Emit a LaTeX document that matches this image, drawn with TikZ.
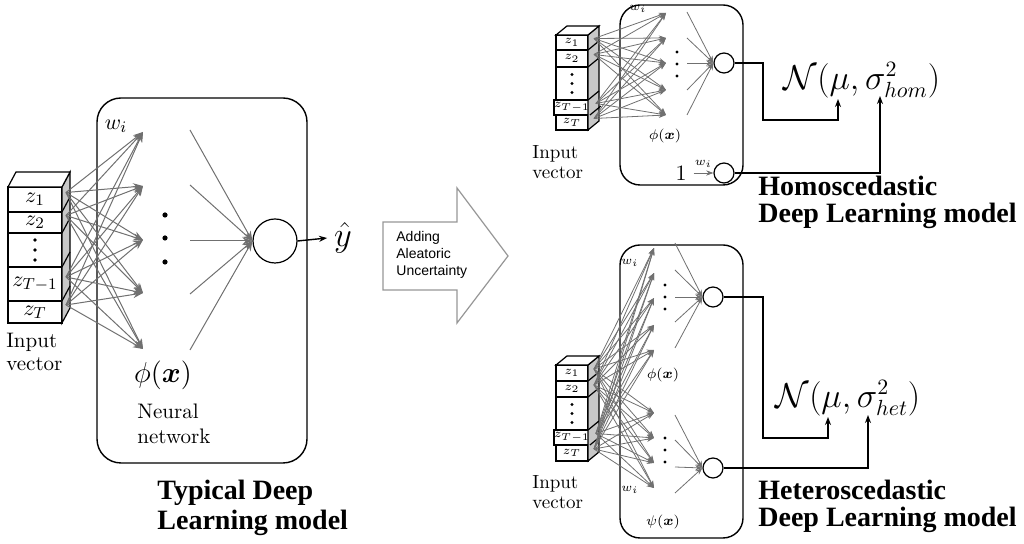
\documentclass[tikz,border=0pt]{standalone}
\usepackage{amsmath,amssymb}
\usepackage{fontspec}
\newfontfamily\titlefont{Liberation Serif}
\newfontfamily\notefont{Liberation Sans}
\usepackage{tikz}
\usetikzlibrary{positioning,arrows.meta,calc}
\definecolor{conexion}{RGB}{112,112,112}
\definecolor{lateral}{RGB}{200,200,200}
\definecolor{flecha}{RGB}{150,150,150}
\newcommand{\fsz}[1]{\fontsize{#1}{#1}\selectfont}

\begin{document}
\begin{tikzpicture}[x=0.5pt,y=-0.5pt,
    celda/.style={draw, fill=white, line width=0.6pt, inner sep=0pt, outer sep=0pt, anchor=north},
    celdaL/.style={celda, minimum width=27pt, font=\fsz{11}},
    celdaS/.style={celda, minimum width=16pt, font=\fsz{5.8}},
    cara/.style={draw, line width=0.6pt},
    sinapsis/.style={draw=conexion, line width=0.5pt, -{Stealth[length=5pt,width=3.6pt]}},
    sinapsisS/.style={draw=conexion, line width=0.4pt, -{Stealth[length=3.6pt,width=2.6pt]}},
    neurona/.style={draw, circle, line width=0.6pt, inner sep=0pt, fill=white},
    salida/.style={draw, line width=0.7pt, -{Stealth[length=4pt,width=3pt]}},
    caja/.style={draw, line width=0.7pt},
    etiqueta/.style={inner sep=0pt, align=left},
    titulo/.style={etiqueta, anchor=west, font=\titlefont\bfseries\fontsize{14}{13.5}\selectfont, align=left},
    nota/.style={etiqueta, anchor=west, font=\notefont\fontsize{7}{8.6}\selectfont}]
  \useasboundingbox (0,0) rectangle (1024,544);

  % red tipica
  \draw[caja, rounded corners=12pt] (97,98) rectangle (307,463);
  \node[celdaL, minimum height=12.5pt] (inL1) at (35,187) {$z_1$};
  \node[celdaL, minimum height=10.5pt, below=0pt of inL1] (inL2) {$z_2$};
  \node[celdaL, minimum height=17pt, below=0pt of inL2] (inL3) {};
  \node[celdaL, minimum height=17pt, below=0pt of inL3] (inL4) {$z_{T-1}$};
  \node[celdaL, minimum height=11pt, below=0pt of inL4] (inL5) {$z_T$};
  \foreach \d in {-10,0,10} \fill ($(inL3.center)+(0,\d)$) circle (0.9pt);
  \draw[cara, fill=lateral] (inL1.north east) -- ++(8,-15) -- ($(inL5.south east)+(8,-15)$) -- (inL5.south east) -- cycle;
  \draw[cara, fill=white] (inL1.north west) -- ++(8,-15) -- ($(inL1.north east)+(8,-15)$) -- (inL1.north east) -- cycle;
  \foreach \i in {1,...,4} \draw[cara] (inL\i.south east) -- ++(8,-15);
  \foreach \y [count=\i] in {132,186,240,293,349} \coordinate (hidL\i) at (143,\y);
  \foreach \s in {1,2,4,5} {
    \foreach \t in {1,...,5} \draw[sinapsis] ($(inL\s.east)+(4,-7)$) -- (hidL\t);
  }
  \node[neurona, minimum size=22pt] (outL) at (275,241) {};
  \foreach \y [count=\i] in {130,185,241,294,350} {
    \coordinate (srcL\i) at (190,\y);
    \draw[sinapsis] (srcL\i) -- (outL.west);
  }
  \foreach \y in {215,238,262} \fill (165,\y) circle (1.3pt);
  \node[font=\fsz{19}] (yhat) at (343,238) {$\hat{y}$};
  \draw[salida] (outL.east) -- (yhat.west);
  \node[font=\fsz{11}] (wL) at (116,126) {$w_i$};
  \node[font=\fsz{15}] (phiL) at (163,375) {$\phi(\boldsymbol{x})$};
  \node[etiqueta, anchor=west, font=\fontsize{10.5}{12.5}\selectfont] (nnL) at (137,424) {Neural\\network};
  \node[etiqueta, anchor=west, font=\fontsize{10.5}{11.5}\selectfont] (ivL) at (6,352) {Input\\vector};
  \node[titulo, font=\titlefont\bfseries\fontsize{14}{15}\selectfont] (tL) at (157,508) {Typical Deep\\Learning model};

  % flecha central
  \draw[draw=flecha, line width=0.6pt] (383,222) -- (457,222) -- (457,188) -- (508,256) -- (457,323) -- (457,290) -- (383,290) -- cycle;
  \node[nota] (aleat) at (396,255) {Adding\\Aleatoric\\Uncertainty};

  % modelo homocedastico
  \draw[caja, rounded corners=10pt] (620,5) rectangle (743,185);
  \node[celdaS, minimum height=7.5pt] (inA1) at (572,35) {$z_1$};
  \node[celdaS, minimum height=8.5pt, below=0pt of inA1] (inA2) {$z_2$};
  \node[celdaS, minimum height=16.5pt, below=0pt of inA2] (inA3) {};
  \node[celdaS, minimum height=7.5pt, below=0pt of inA3] (inA4) {$z_{T-1}$};
  \node[celdaS, minimum height=7.5pt, below=0pt of inA4] (inA5) {$z_T$};
  \foreach \d in {-9,0,9} \fill ($(inA3.center)+(0,\d)$) circle (0.8pt);
  \draw[cara, fill=lateral] (inA1.north east) -- ++(11,-9) -- ($(inA5.south east)+(11,-9)$) -- (inA5.south east) -- cycle;
  \draw[cara, fill=white] (inA1.north west) -- ++(11,-9) -- ($(inA1.north east)+(11,-9)$) -- (inA1.north east) -- cycle;
  \foreach \i in {1,...,4} \draw[cara] (inA\i.south east) -- ++(11,-9);
  \foreach \y [count=\i] in {13,38,63,90,115} \coordinate (hidA\i) at (666,\y);
  \foreach \s in {1,2,4,5} {
    \foreach \t in {1,...,5} \draw[sinapsisS] ($(inA\s.east)+(6,-4)$) -- (hidA\t);
  }
  \node[neurona, minimum size=10pt] (outA1) at (724,63) {};
  \foreach \y [count=\i] in {12,38,63,90,115} {
    \coordinate (srcA\i) at (687,\y);
    \draw[sinapsisS] (srcA\i) -- (outA1.west);
  }
  \foreach \y in {52,64,76} \fill (677,\y) circle (0.8pt);
  \node[font=\fsz{6.5}] (wA) at (638,9) {$w_i$};
  \node[font=\fsz{7.5}] (phiA) at (665,136) {$\phi(\boldsymbol{x})$};
  \node[neurona, minimum size=10pt] (outA2) at (724,173) {};
  \node[font=\fsz{11}] (oneA) at (681,173) {$1$};
  \draw[sinapsisS] (oneA.east) -- node[above=-1pt, font=\fsz{6}] (wA2) {$w_i$} (outA2.west);
  \node[etiqueta, anchor=west, font=\fontsize{9.5}{10}\selectfont] (ivA) at (532,162) {Input\\vector};
  \node[font=\fsz{16}] (distA) at (862,80) {$\mathcal{N}(\mu,\sigma^2_{hom})$};
  \coordinate (muA) at (838,99);
  \coordinate (sgA) at (880,96);
  \draw[salida] (outA1.east) -| (763,120) -| (muA);
  \draw[salida] (outA2.east) -| (sgA);
  \node[titulo] (tA) at (758,202) {Homoscedastic\\Deep Learning model};

  % modelo heterocedastico
  \draw[caja, rounded corners=10pt] (620,245) rectangle (743,538);
  \node[celdaS, minimum height=8pt] (inB1) at (572,365) {$z_1$};
  \node[celdaS, minimum height=8pt, below=0pt of inB1] (inB2) {$z_2$};
  \node[celdaS, minimum height=16.5pt, below=0pt of inB2] (inB3) {};
  \node[celdaS, minimum height=7.5pt, below=0pt of inB3] (inB4) {$z_{T-1}$};
  \node[celdaS, minimum height=8pt, below=0pt of inB4] (inB5) {$z_T$};
  \foreach \d in {-9,0,9} \fill ($(inB3.center)+(0,\d)$) circle (0.8pt);
  \draw[cara, fill=lateral] (inB1.north east) -- ++(11,-9) -- ($(inB5.south east)+(11,-9)$) -- (inB5.south east) -- cycle;
  \draw[cara, fill=white] (inB1.north west) -- ++(11,-9) -- ($(inB1.north east)+(11,-9)$) -- (inB1.north east) -- cycle;
  \foreach \i in {1,...,4} \draw[cara] (inB\i.south east) -- ++(11,-9);
  \foreach \y [count=\i] in {248,273,298,325,350,413,438,463,488} \coordinate (hidB\i) at (654,\y);
  \foreach \s in {1,2,4,5} {
    \foreach \t in {1,...,9} \draw[sinapsisS] ($(inB\s.east)+(6,-4)$) -- (hidB\t);
  }
  \node[neurona, minimum size=10pt] (outB1) at (713,297) {};
  \node[neurona, minimum size=10pt] (outB2) at (713,468) {};
  \foreach \y [count=\i] in {243,270,297,322,348} {
    \coordinate (srcB\i) at (675,\y);
    \draw[sinapsisS] (srcB\i) -- (outB1.west);
  }
  \foreach \y [count=\i] in {415,440,467,493} {
    \coordinate (srcC\i) at (675,\y);
    \draw[sinapsisS] (srcC\i) -- (outB2.west);
  }
  \foreach \y in {285,297,309,438,450,462} \fill (665,\y) circle (0.8pt);
  \node[font=\fsz{6.5}] (wB1) at (630,263) {$w_i$};
  \node[font=\fsz{6.5}] (wB2) at (630,490) {$w_i$};
  \node[font=\fsz{7.5}] (phiB) at (663,375) {$\phi(\boldsymbol{x})$};
  \node[font=\fsz{7.5}] (psiB) at (663,522) {$\psi(\boldsymbol{x})$};
  \node[etiqueta, anchor=west, font=\fontsize{9.5}{10}\selectfont] (ivB) at (532,492) {Input\\vector};
  \node[font=\fsz{16}] (distB) at (848,398) {$\mathcal{N}(\mu,\sigma^2_{het})$};
  \coordinate (muB) at (828,417);
  \coordinate (sgB) at (868,415);
  \draw[salida] (outB1.east) -| (763,438) -| (muB);
  \draw[salida] (outB2.east) -| (sgB);
  \node[titulo] (tB) at (758,506) {Heteroscedastic\\Deep Learning model};
\end{tikzpicture}
\end{document}
